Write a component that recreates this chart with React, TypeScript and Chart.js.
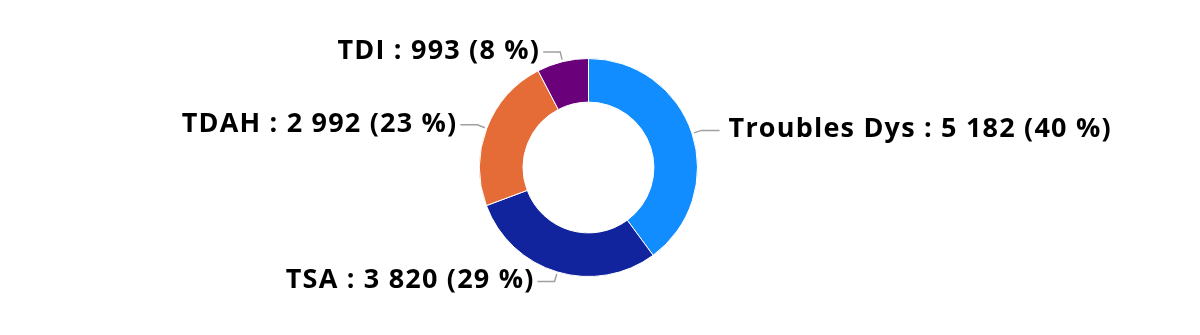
import React, { useEffect, useRef } from "react";
import { Chart, registerables } from "chart.js";

Chart.register(...registerables);

const categories = ["Troubles Dys", "TSA", "TDAH", "TDI"];
const values = [5182, 3820, 2992, 993];
const colors = ["#118DFF", "#12239E", "#E66C37", "#6B007B"];

const fmt = (n: number) => String(n).replace(/\B(?=(\d{3})+(?!\d))/g, " ");

const labelPlugin = {
  id: "outerLabels",
  afterDraw(chart: any) {
    const ctx = chart.ctx;
    const meta = chart.getDatasetMeta(0);
    const data = chart.data.datasets[0].data as number[];
    const total = data.reduce((a, b) => a + b, 0);
    ctx.save();
    ctx.font = "bold 27px 'Open Sans'";
    (ctx as any).letterSpacing = "1.2px";
    ctx.textBaseline = "middle";
    meta.data.forEach((arc: any, i: number) => {
      const { x, y, startAngle, endAngle, outerRadius } = arc.getProps(
        ["x", "y", "startAngle", "endAngle", "outerRadius"],
        true
      );
      const mid = (startAngle + endAngle) / 2;
      const c = Math.cos(mid);
      const s = Math.sin(mid);
      const x1 = x + c * (outerRadius + 2);
      const y1 = y + s * (outerRadius + 2);
      const x2 = x + c * (outerRadius + 10);
      const y2 = y + s * (outerRadius + 10);
      const right = c >= 0;
      const x3 = x2 + (right ? 18 : -17);
      ctx.strokeStyle = "#A0A0A0";
      ctx.lineWidth = 1.5;
      ctx.beginPath();
      ctx.moveTo(x1, y1);
      ctx.lineTo(x2, y2);
      ctx.lineTo(x3, y2);
      ctx.stroke();
      const pct = Math.round((data[i] / total) * 100);
      const text = `${chart.data.labels[i]} : ${fmt(data[i])} (${pct} %)`;
      ctx.fillStyle = "#000000";
      ctx.textAlign = right ? "left" : "right";
      ctx.fillText(text, x3 + (right ? 9 : -3), y2 - 1);
    });
    ctx.restore();
  },
};

export default function App() {
  const ref = useRef<HTMLCanvasElement | null>(null);
  useEffect(() => {
    if (!ref.current) return;
    const chart = new Chart(ref.current, {
      type: "doughnut",
      data: {
        labels: categories,
        datasets: [
          {
            data: values,
            backgroundColor: colors,
            borderColor: "#ffffff",
            borderWidth: 1,
          },
        ],
      },
      options: {
        animation: false,
        responsive: true,
        maintainAspectRatio: false,
        cutout: "60%",
        layout: { padding: { left: 369, right: 392, top: 58, bottom: 58 } },
        plugins: { legend: { display: false }, tooltip: { enabled: false } },
      },
      plugins: [labelPlugin],
    });
    return () => chart.destroy();
  }, []);
  return (
    <div style={{ position: "fixed", left: 0, top: 0, width: 1200, height: 335, background: "#fff" }}>
      <canvas ref={ref} />
    </div>
  );
}
